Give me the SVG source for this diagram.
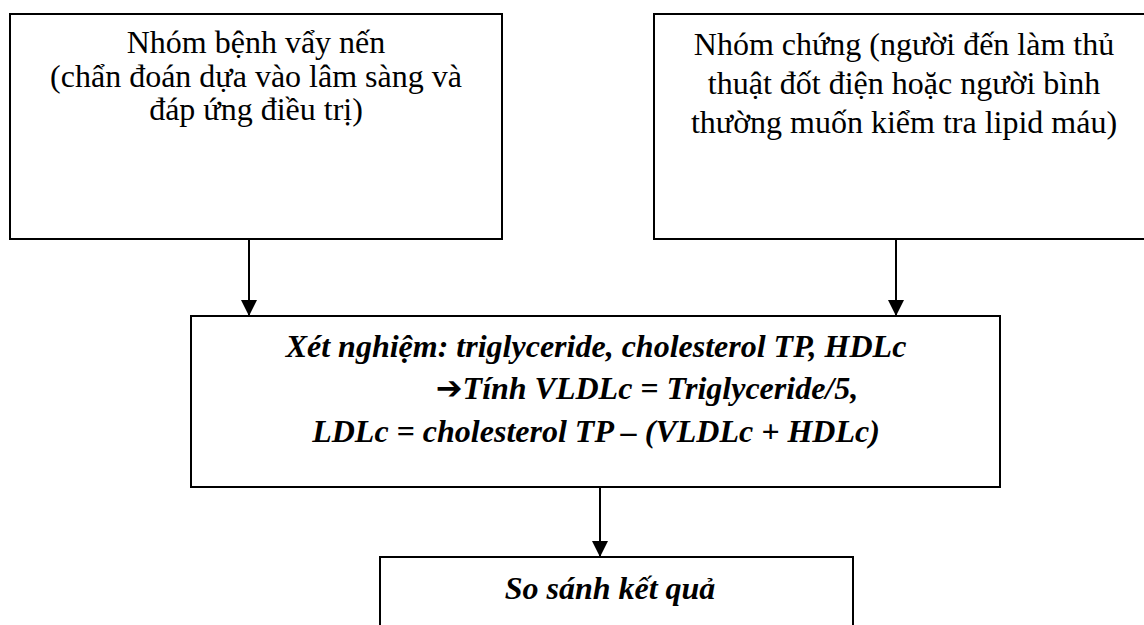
<svg xmlns="http://www.w3.org/2000/svg" width="1144" height="625" viewBox="0 0 1144 625">
<defs>
<style>
.box{fill:#fff;stroke:#000;stroke-width:2}
.t{font-family:"Liberation Serif","Times New Roman",serif;font-size:32px;fill:#000;text-anchor:middle}
.bi{font-weight:bold;font-style:italic}
.c{stroke:#000;stroke-width:2;fill:none}
</style>
<marker id="ah" markerWidth="16" markerHeight="16" refX="16" refY="8" orient="auto" markerUnits="userSpaceOnUse">
<path d="M0,0 L16,8 L0,16 Z" fill="#000"/>
</marker>
</defs>
<rect width="1144" height="625" fill="#fff"/>
<g id="connectors">
<line class="c" x1="249" y1="239" x2="249" y2="316" marker-end="url(#ah)"/>
<line class="c" x1="896" y1="239" x2="896" y2="316" marker-end="url(#ah)"/>
<line class="c" x1="600" y1="487" x2="600" y2="557" marker-end="url(#ah)"/>
</g>
<g id="node-psoriasis">
<rect class="box" x="10" y="14" width="492" height="225"/>
<text class="t" x="256" y="53">Nhóm bệnh vẩy nến</text>
<text class="t" x="256" y="87">(chẩn đoán dựa vào lâm sàng và</text>
<text class="t" x="256" y="120">đáp ứng điều trị)</text>
</g>
<g id="node-control">
<rect class="box" x="654" y="14" width="500" height="225"/>
<text class="t" x="904" y="55">Nhóm chứng (người đến làm thủ</text>
<text class="t" x="904" y="94">thuật đốt điện hoặc người bình</text>
<text class="t" x="904" y="133">thường muốn kiểm tra lipid máu)</text>
</g>
<g id="node-test">
<rect class="box" x="191" y="316" width="809" height="171"/>
<text class="t bi" x="596" y="357">Xét nghiệm: triglyceride, cholesterol TP, HDLc</text>
<text class="t bi" x="647" y="399"><tspan font-family="DejaVu Sans, sans-serif" font-style="normal" font-size="32">➔</tspan>Tính VLDLc = Triglyceride/5,</text>
<text class="t bi" x="596" y="442">LDLc = cholesterol TP – (VLDLc + HDLc)</text>
</g>
<g id="node-compare">
<rect class="box" x="380" y="557" width="473" height="100"/>
<text class="t bi" x="610" y="599">So sánh kết quả</text>
</g>
</svg>
